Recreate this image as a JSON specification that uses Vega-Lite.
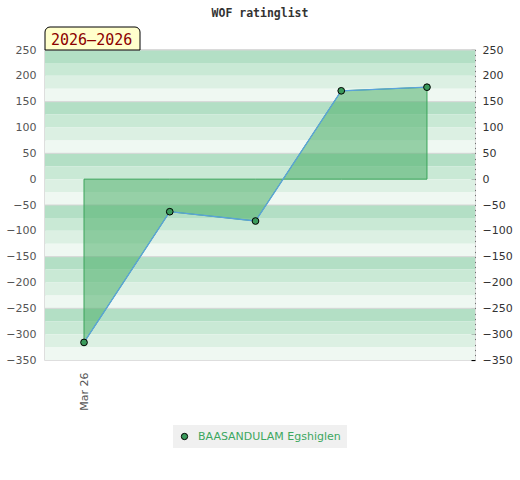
{
  "$schema": "https://vega.github.io/schema/vega-lite/v6.json",
  "autosize": "none",
  "width": 430,
  "height": 310,
  "padding": {"left": 45, "top": 50, "right": 45, "bottom": 120},
  "background": "white",
  "title": {"text": "WOF ratinglist", "font": "DejaVu Sans Mono", "fontSize": 11.5, "fontWeight": "bold", "color": "#333333", "anchor": "middle", "offset": 7},
  "config": {"view": {"stroke": "#d4d4d4", "strokeWidth": 1.5}},
  "datasets": {
    "bands": [
      {"lo": 225, "hi": 250, "shade": "s1"}, {"lo": 200, "hi": 225, "shade": "s2"}, {"lo": 175, "hi": 200, "shade": "s3"}, {"lo": 150, "hi": 175, "shade": "s4"},
      {"lo": 125, "hi": 150, "shade": "s1"}, {"lo": 100, "hi": 125, "shade": "s2"}, {"lo": 75, "hi": 100, "shade": "s3"}, {"lo": 50, "hi": 75, "shade": "s4"},
      {"lo": 25, "hi": 50, "shade": "s1"}, {"lo": 0, "hi": 25, "shade": "s2"}, {"lo": -25, "hi": 0, "shade": "s3"}, {"lo": -50, "hi": -25, "shade": "s4"},
      {"lo": -75, "hi": -50, "shade": "s1"}, {"lo": -100, "hi": -75, "shade": "s2"}, {"lo": -125, "hi": -100, "shade": "s3"}, {"lo": -150, "hi": -125, "shade": "s4"},
      {"lo": -175, "hi": -150, "shade": "s1"}, {"lo": -200, "hi": -175, "shade": "s2"}, {"lo": -225, "hi": -200, "shade": "s3"}, {"lo": -250, "hi": -225, "shade": "s4"},
      {"lo": -275, "hi": -250, "shade": "s1"}, {"lo": -300, "hi": -275, "shade": "s2"}, {"lo": -325, "hi": -300, "shade": "s3"}, {"lo": -350, "hi": -325, "shade": "s4"}
    ],
    "ratings": [
      {"i": 0, "rating": -316, "name": "BAASANDULAM Egshiglen"},
      {"i": 1, "rating": -63, "name": "BAASANDULAM Egshiglen"},
      {"i": 2, "rating": -81, "name": "BAASANDULAM Egshiglen"},
      {"i": 3, "rating": 171, "name": "BAASANDULAM Egshiglen"},
      {"i": 4, "rating": 178, "name": "BAASANDULAM Egshiglen"}
    ]
  },
  "layer": [
    {
      "data": {"name": "bands"},
      "mark": {"type": "rect"},
      "encoding": {
        "y": {"field": "lo", "type": "quantitative", "scale": {"domain": [-350, 250], "nice": false, "zero": false},
          "axis": {"orient": "left", "values": [250, 200, 150, 100, 50, 0, -50, -100, -150, -200, -250, -300, -350], "ticks": false, "domain": false, "grid": false, "labelPadding": 9, "labelFont": "DejaVu Sans", "labelFontSize": 11, "labelColor": "#555555", "title": null, "labelOverlap": false}},
        "y2": {"field": "hi"},
        "fill": {"field": "shade", "type": "nominal", "scale": {"domain": ["s1", "s2", "s3", "s4"], "range": ["#b3dfc5", "#c9e9d5", "#dcf0e3", "#eff8f2"]}, "legend": null}
      }
    },
    {
      "data": {"name": "bands"},
      "transform": [{"filter": "datum.shade === 's1'"}],
      "mark": {"type": "rule", "color": "#d6d6d6", "strokeWidth": 1},
      "encoding": {
        "y": {"field": "hi", "type": "quantitative",
          "axis": {"orient": "right", "values": [250, 240, 230, 220, 210, 200, 190, 180, 170, 160, 150, 140, 130, 120, 110, 100, 90, 80, 70, 60, 50, 40, 30, 20, 10, 0, -10, -20, -30, -40, -50, -60, -70, -80, -90, -100, -110, -120, -130, -140, -150, -160, -170, -180, -190, -200, -210, -220, -230, -240, -250, -260, -270, -280, -290, -300, -310, -320, -330, -340, -350],
            "labelExpr": "datum.value % 50 === 0 ? datum.label : ''", "labelOverlap": false, "tickSize": 4, "offset": -4, "tickColor": "#000000", "tickWidth": 1.2, "tickOpacity": 1, "tickRound": true, "domain": false, "grid": false, "labelPadding": 7, "labelFont": "DejaVu Sans", "labelFontSize": 11, "labelColor": "#333333", "title": null}}
      }
    },
    {
      "data": {"name": "ratings"},
      "mark": {"type": "area", "fill": "#4caf6a", "fillOpacity": 0.55, "stroke": "#3aa35a", "strokeWidth": 1, "strokeOpacity": 1},
      "encoding": {
        "x": {"field": "i", "type": "quantitative", "scale": {"domain": [-0.455, 4.56], "nice": false, "zero": false},
          "axis": {"values": [0], "labelExpr": "'Mar 26'", "labelAngle": 270, "ticks": false, "domain": false, "grid": false, "labelPadding": 12, "labelFont": "DejaVu Sans", "labelFontSize": 11, "labelColor": "#555555", "title": null}},
        "y": {"field": "rating", "type": "quantitative", "axis": null},
        "y2": {"datum": 0}
      }
    },
    {
      "data": {"name": "ratings"},
      "mark": {"type": "line", "color": "#5ba3dc", "strokeWidth": 1.3},
      "encoding": {
        "x": {"field": "i", "type": "quantitative"},
        "y": {"field": "rating", "type": "quantitative", "axis": null}
      }
    },
    {
      "data": {"name": "ratings"},
      "mark": {"type": "point", "filled": true, "size": 45, "opacity": 1},
      "encoding": {
        "x": {"field": "i", "type": "quantitative"},
        "y": {"field": "rating", "type": "quantitative", "axis": null},
        "color": {"field": "name", "type": "nominal", "scale": {"range": ["#3a9a5b"]},
          "legend": {"orient": "none", "legendX": 128, "legendY": 375, "title": null, "fillColor": "#f0f0f0", "padding": 6, "labelColor": "#3ca75f", "labelFont": "DejaVu Sans", "labelFontSize": 11, "symbolType": "circle", "symbolSize": 40, "symbolStrokeColor": "black", "symbolStrokeWidth": 1, "labelOffset": 8}},
        "stroke": {"value": "black"},
        "strokeWidth": {"value": 1}
      }
    },
    {
      "data": {"values": [{"label": "2026–2026"}]},
      "mark": {"type": "rect", "fill": "#ffffcc", "stroke": "black", "strokeWidth": 1, "cornerRadiusTopLeft": 5, "cornerRadiusTopRight": 5},
      "encoding": {
        "x": {"datum": -0.455, "type": "quantitative"},
        "x2": {"datum": 0.653},
        "y": {"datum": 250, "type": "quantitative", "axis": null},
        "y2": {"datum": 294.5}
      }
    },
    {
      "data": {"values": [{"label": "2026–2026"}]},
      "mark": {"type": "text", "font": "DejaVu Sans Mono", "fontSize": 15, "color": "#8b0000", "align": "left", "baseline": "alphabetic", "dx": 6, "dy": -5},
      "encoding": {
        "x": {"datum": -0.455, "type": "quantitative"},
        "y": {"datum": 250, "type": "quantitative", "axis": null},
        "text": {"field": "label"}
      }
    }
  ],
  "resolve": {"axis": {"y": "independent"}}
}
